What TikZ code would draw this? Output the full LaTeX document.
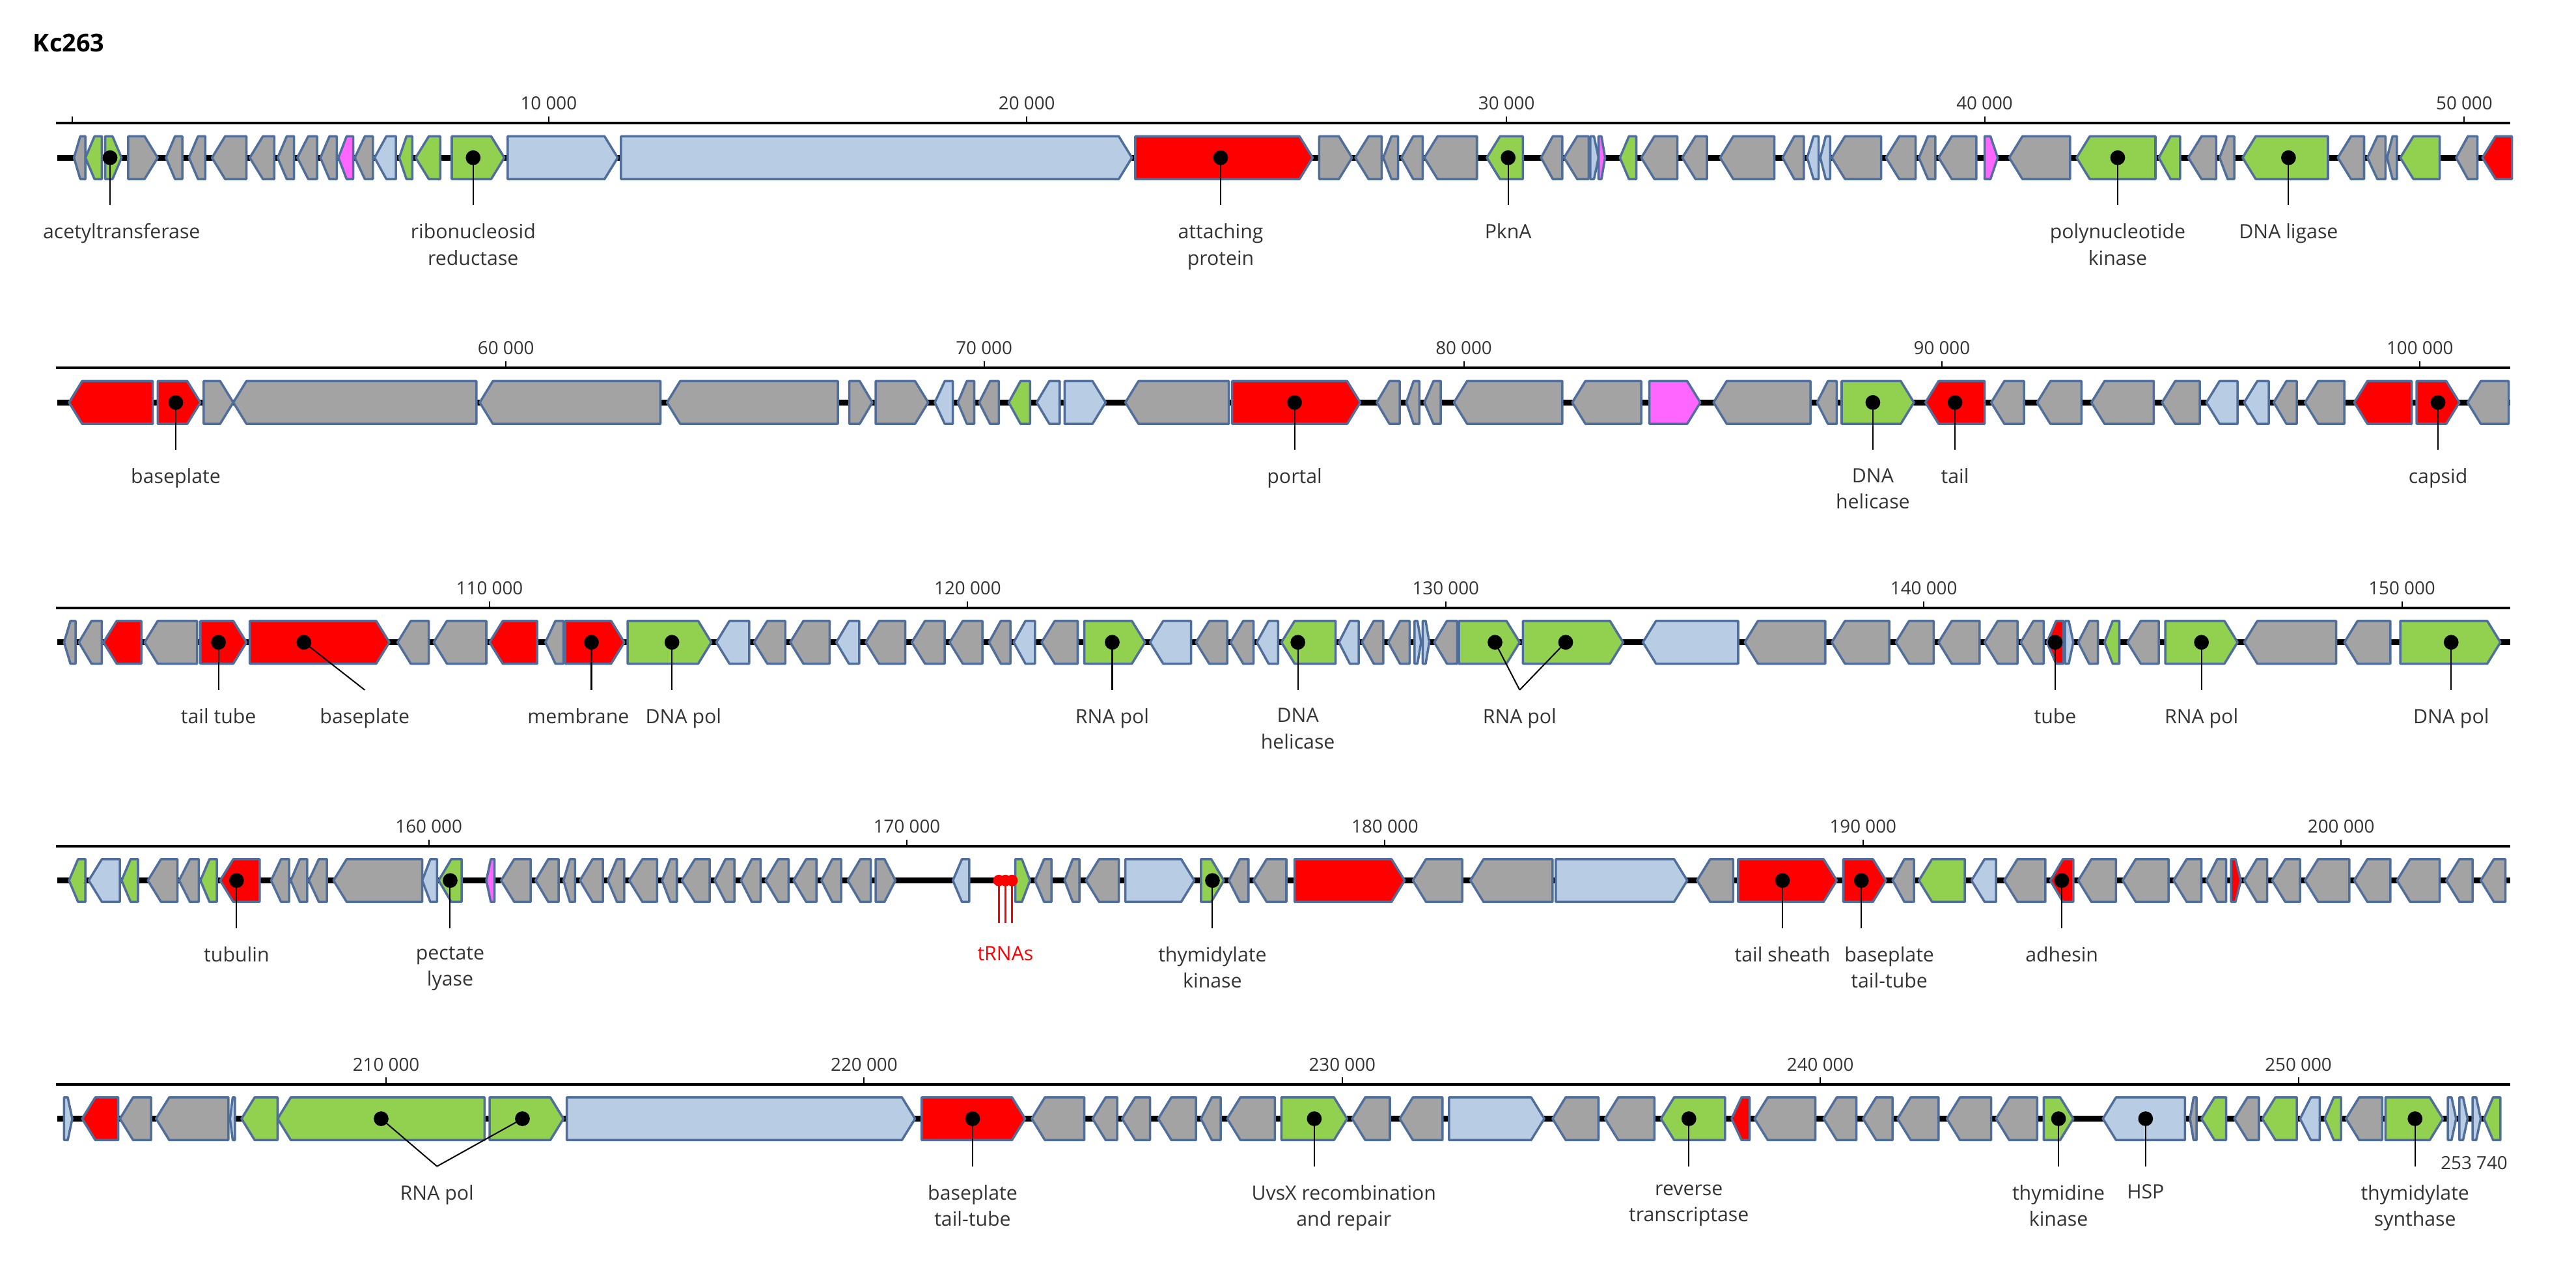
\documentclass[tikz,border=0pt]{standalone}
\usepackage{fontspec}
\setmainfont{Open Sans}
\definecolor{gr}{HTML}{A3A3A3}
\definecolor{lb}{HTML}{B8CCE4}
\definecolor{gn}{HTML}{92D050}
\definecolor{rd}{HTML}{FF0000}
\definecolor{mg}{HTML}{FF66FF}
\definecolor{edge}{HTML}{4F6E9B}
\definecolor{txt}{HTML}{333333}
\tikzset{
  gene/.style={draw=edge, line width=1.4pt, line join=round},
  track/.style={line width=3.5pt, black},
  axis/.style={line width=1.6pt, black},
  lead/.style={line width=0.8pt, black},
  lbl/.style={anchor=north, inner sep=0pt, align=center, font=\fontsize{12}{16}\selectfont, text=txt},
  tick/.style={font=\fontsize{11}{13}\selectfont, text=txt, inner sep=0pt}
}
% genes: start/end/colour, the arrow points to end
\newcommand\genes[2]{%
  \foreach \s/\e/\c in {#2}{%
    \pgfmathsetmacro\tp{min(8,0.55*abs(\e-\s))*sign(\e-\s)}
    \draw[gene,fill=\c] (\s,#1-13) -- (\e-\tp,#1-13) -- (\e,#1) -- (\e-\tp,#1+13) -- (\s,#1+13) -- cycle;}}
% dot and leader: row y, dot x, text x
\newcommand\pin[3]{%
  \draw[lead] (#2,#1) -- (#3,#1+29);
  \fill (#2,#1) circle (4.5);}
\newcommand\lab[3]{\node[lbl] at (#2,#1+40) {#3};}
% axis: y of track, end x, ticks
\newcommand\ruler[3]{%
  \draw[axis] (34,#1-21) -- (#2,#1-21);
  \foreach \x/\l in {#3}{%
    \draw[line width=0.8pt] (\x,#1-21) -- (\x,#1-25);
    \node[tick] at (\x,#1-33) {\l};}}
\begin{document}
\begin{tikzpicture}[x=1pt,y=-1pt]
\useasboundingbox (0,0) rectangle (1568,773);
\node[anchor=west, inner sep=0pt, font=\fontsize{15}{18}\selectfont\bfseries] (title) at (20,26) {Kc263};

% ---------- row 1
\ruler{96}{1528}{334/10 000,625/20 000,917/30 000,1208/40 000,1500/50 000}
\draw[line width=0.8pt] (44,75) -- (44,71);
\draw[track] (35,96) -- (1528,96);
\genes{96}{52/45/gr,62/52/gn,64/74/gn,78/96/gr,111/101/gr,125/115/gr,150/129/gr,167/152/gr,179/169/gr,193/181/gr,205/195/gr,215/206/mg,227/216/gr,241/228/lb,251/243/gn,268/253/gn,275/307/gn,309/376/lb,378/689/lb,691/799/rd,803/823/gr,841/825/gr,851/842/gr,866/853/gr,899/867/gr,927/905/gn,951/938/gr,967/952/gr,968/973/lb,973/977/mg,996/986/gn,1021/999/gr,1039/1024/gr,1080/1047/gr,1098/1085/gr,1107/1100/lb,1114/1108/lb,1145/1115/gr,1166/1148/gr,1178/1168/gr,1203/1180/gr,1208/1216/mg,1260/1223/gr,1312/1264/gn,1327/1314/gn,1349/1332/gr,1360/1351/gr,1417/1365/gn,1439/1423/gr,1452/1441/gr,1459/1453/gr,1485/1461/gn,1508/1495/gr,1529/1511/rd}
\pin{96}{67}{67}\lab{96}{74}{acetyltransferase}
\pin{96}{288}{288}\lab{96}{288}{ribonucleosid\\reductase}
\pin{96}{743}{743}\lab{96}{743}{attaching\\protein}
\pin{96}{918}{918}\lab{96}{918}{PknA}
\pin{96}{1289}{1289}\lab{96}{1289}{polynucleotide\\kinase}
\pin{96}{1393}{1393}\lab{96}{1393}{DNA ligase}

% ---------- row 2
\ruler{245}{1528}{308/60 000,599/70 000,891/80 000,1182/90 000,1473/100 000}
\draw[track] (35,245) -- (1528,245);
\genes{245}{93/42/rd,96/122/rd,124/142/gr,290/142/gr,402/292/gr,510/406/gr,517/531/gr,533/565/gr,580/569/lb,593/583/gr,608/596/gr,627/614/gn,645/631/lb,648/673/lb,748/685/gr,750/828/rd,852/838/gr,864/856/gr,877/867/gr,951/885/gr,999/957/gr,1004/1035/mg,1102/1043/gr,1118/1106/gr,1121/1165/gn,1208/1172/rd,1232/1212/gr,1267/1240/gr,1311/1273/gr,1339/1316/gr,1362/1343/lb,1381/1366/lb,1398/1384/gr,1427/1403/gr,1468/1433/rd,1471/1497/rd,1527/1502/gr}
\pin{245}{107}{107}\lab{245}{107}{baseplate}
\pin{245}{788}{788}\lab{245}{788}{portal}
\pin{245}{1140}{1140}\lab{245}{1140}{DNA\\helicase}
\pin{245}{1190}{1190}\lab{245}{1190}{tail}
\pin{245}{1484}{1484}\lab{245}{1484}{capsid}

% ---------- row 3
\ruler{391}{1528}{298/110 000,589/120 000,880/130 000,1171/140 000,1462/150 000}
\draw[track] (35,391) -- (1528,391);
\genes{391}{46/39/gr,62/48/gr,86/63/rd,120/88/gr,122/150/rd,152/237/rd,261/242/gr,296/264/gr,327/298/rd,343/332/gr,344/380/rd,382/433/gn,456/436/lb,478/459/gr,505/481/gr,523/509/lb,551/527/gr,575/555/gr,598/578/gr,615/602/gr,630/617/lb,656/634/gr,660/697/gn,725/700/lb,747/728/gr,763/749/gr,778/765/lb,813/780/gn,827/815/lb,842/829/gr,858/845/gr,861/865/lb,866/870/lb,887/873/gr,888/925/gn,927/988/gn,1058/1000/lb,1111/1062/gr,1150/1115/gr,1177/1154/gr,1205/1180/gr,1228/1208/gr,1244/1230/gr,1256/1246/rd,1257/1262/lb,1277/1265/gr,1290/1281/gn,1314/1295/gr,1318/1362/gn,1422/1366/gr,1455/1427/gr,1461/1522/gn}
\pin{391}{133}{133}\lab{391}{133}{tail tube}
\pin{391}{185}{222}\lab{391}{222}{baseplate}
\pin{391}{360}{360}\lab{391}{352}{membrane}
\pin{391}{409}{409}\lab{391}{416}{DNA pol}
\pin{391}{677}{677}\lab{391}{677}{RNA pol}
\pin{391}{790}{790}\lab{391}{790}{DNA\\helicase}
\pin{391}{910}{925}\pin{391}{953}{925}\lab{391}{925}{RNA pol}
\pin{391}{1251}{1251}\lab{391}{1251}{tube}
\pin{391}{1340}{1340}\lab{391}{1340}{RNA pol}
\pin{391}{1492}{1492}\lab{391}{1492}{DNA pol}

% ---------- row 4
\ruler{536}{1528}{261/160 000,552/170 000,843/180 000,1134/190 000,1425/200 000}
\draw[track] (35,536) -- (1528,536);
\genes{536}{52/42/gn,73/54/lb,84/74/gn,108/90/gr,121/109/gr,132/122/gn,158/134/rd,176/165/gr,187/177/gr,199/188/gr,257/203/gr,266/257/lb,281/267/gn,301/296/mg,323/305/gr,340/326/gr,350/343/gr,367/353/gr,380/370/gr,400/383/gr,412/403/gr,432/415/gr,447/435/gr,463/451/gr,480/466/gr,497/483/gr,512/500/gr,530/516/gr,533/545/gr,590/580/lb,618/627/gn,640/630/gr,657/648/gr,681/661/gr,685/727/lb,731/745/gn,760/748/gr,783/763/gr,788/855/rd,890/860/gr,945/895/gr,947/1027/lb,1055/1033/gr,1058/1118/rd,1122/1148/rd,1165/1152/gr,1196/1168/gn,1215/1200/lb,1245/1220/gr,1262/1248/rd,1288/1265/gr,1320/1292/gr,1340/1323/gr,1355/1343/gr,1358/1364/rd,1380/1366/gr,1400/1383/gr,1430/1403/gr,1455/1433/gr,1485/1459/gr,1505/1489/gr,1525/1510/gr}
\foreach \x in {608,612,616}{%
  \draw[rd, line width=1.2pt] (\x,536) -- (\x,562);
  \fill[rd] (\x,536) circle (3.5);}
\node[lbl, text=rd] (trna) at (612,576) {tRNAs};
\pin{536}{144}{144}\lab{536}{144}{tubulin}
\pin{536}{274}{274}\lab{536}{274}{pectate\\lyase}
\pin{536}{738}{738}\lab{536}{738}{thymidylate\\kinase}
\pin{536}{1085}{1085}\lab{536}{1085}{tail sheath}
\pin{536}{1133}{1133}\lab{536}{1150}{baseplate\\tail-tube}
\pin{536}{1255}{1255}\lab{536}{1255}{adhesin}

% ---------- row 5
\ruler{681}{1528}{235/210 000,526/220 000,817/230 000,1108/240 000,1399/250 000}
\draw[track] (35,681) -- (1522,681);
\genes{681}{39/44/lb,72/50/rd,92/73/gr,139/95/gr,143/140/lb,169/147/gn,295/169/gn,298/343/gn,345/557/lb,561/624/rd,660/628/gr,680/665/gr,700/683/gr,728/705/gr,743/731/gr,776/747/gr,780/820/gn,846/823/gr,878/852/gr,882/940/lb,973/945/gr,1007/977/gr,1050/1011/gn,1065/1054/rd,1105/1068/gr,1130/1110/gr,1152/1134/gr,1180/1155/gr,1212/1185/gr,1240/1215/gr,1244/1262/gn,1330/1280/lb,1337/1333/gr,1355/1340/gn,1375/1360/gr,1398/1377/gn,1412/1400/lb,1425/1415/gn,1450/1428/gr,1452/1487/gn,1490/1495/lb,1497/1502/lb,1505/1510/lb,1522/1512/gn}
\pin{681}{232}{266}\pin{681}{318}{266}\lab{681}{266}{RNA pol}
\pin{681}{592}{592}\lab{681}{592}{baseplate\\tail-tube}
\pin{681}{800}{800}\lab{681}{818}{UvsX recombination\\and repair}
\pin{681}{1028}{1028}\lab{681}{1028}{reverse\\transcriptase}
\pin{681}{1253}{1253}\lab{681}{1253}{thymidine\\kinase}
\pin{681}{1306}{1306}\lab{681}{1306}{HSP}
\pin{681}{1470}{1470}\lab{681}{1470}{thymidylate\\synthase}
\node[tick] (len) at (1506,708) {253 740};
\end{tikzpicture}
\end{document}
